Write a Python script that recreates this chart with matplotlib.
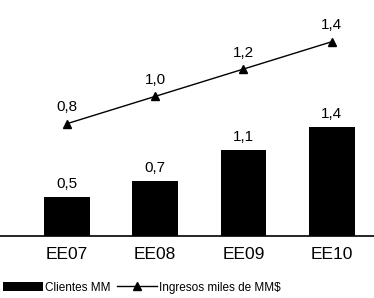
import matplotlib.pyplot as plt
from matplotlib import rcParams

rcParams['font.family'] = ['Liberation Sans', 'DejaVu Sans']

periods = ['EE07', 'EE08', 'EE09', 'EE10']
clientes = [0.5, 0.7, 1.1, 1.4]
ingresos = [0.8, 1.0, 1.2, 1.4]
clientes_lbl = ['0,5', '0,7', '1,1', '1,4']
ingresos_lbl = ['0,8', '1,0', '1,2', '1,4']

fig = plt.figure(figsize=(3.74, 2.98), dpi=100)
ax = fig.add_axes([0.0, 0.208, 1.0, 0.792])
x = list(range(len(periods)))

bars = ax.bar(x, clientes, width=0.52, color='black', label='Clientes MM')
for xi, v, t in zip(x, clientes, clientes_lbl):
    ax.text(xi, v + 0.08, t, ha='center', va='bottom', fontsize=11)

ax.set_xlim(-0.76, 3.48)
ax.set_ylim(0, 3.03)
for s in ['top', 'right', 'left']:
    ax.spines[s].set_visible(False)
ax.spines['bottom'].set_linewidth(1.2)
ax.set_yticks([])
ax.set_xticks(x)
ax.set_xticklabels(periods, fontsize=12.5)
ax.tick_params(axis='x', length=0, pad=8)

ax2 = ax.twinx()
line, = ax2.plot(x, ingresos, 'k-', marker='^', markersize=6, lw=1,
                 label='Ingresos miles de MM$')
for xi, v, t in zip(x, ingresos, ingresos_lbl):
    ax2.text(xi, v + 0.07, t, ha='center', va='bottom', fontsize=11)
ax2.set_ylim(-0.023, 1.706)
ax2.set_xlim(-0.76, 3.48)
ax2.axis('off')

fig.legend(handles=[bars, line], loc='center left', ncol=2,
           bbox_to_anchor=(-0.005, 0.035), frameon=False, fontsize=8.5,
           handlelength=3.4, handletextpad=0.2, columnspacing=0.5,
           borderaxespad=0)

fig.savefig('out.png', dpi=100)
